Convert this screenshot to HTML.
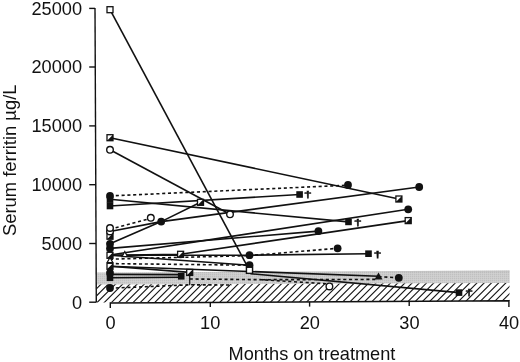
<!DOCTYPE html>
<html lang="en">
<head>
<meta charset="utf-8">
<title>Serum ferritin during treatment</title>
<style>
html,body{margin:0;padding:0;background:#fff;}
body{width:520px;height:362px;overflow:hidden;}
svg{display:block;will-change:transform;font-family:"Liberation Sans",Arial,Helvetica,sans-serif;}
</style>
</head>
<body>
<svg width="520" height="362" viewBox="0 0 520 362">
<rect width="520" height="362" fill="#fff"/>
<defs><linearGradient id="bg" x1="0" y1="0" x2="0" y2="1"><stop offset="0" stop-color="#b9b9b9"/><stop offset="0.16" stop-color="#cccccc"/><stop offset="1" stop-color="#cdcdcd"/></linearGradient><pattern id="ht" width="2" height="2" patternUnits="userSpaceOnUse"><rect width="1" height="1" fill="#000" fill-opacity="0.06"/><rect x="1" y="1" width="1" height="1" fill="#fff" fill-opacity="0.10"/></pattern></defs>
<polygon points="96.6,272.6 509.7,270.6 509.7,283.0 96.6,284.5" fill="url(#bg)"/>
<polygon points="96.6,272.6 509.7,270.6 509.7,283.0 96.6,284.5" fill="url(#ht)"/>
<clipPath id="hc"><polygon points="96.6,284.5 509.5,283.0 509.5,301.0 96.6,302.6"/></clipPath>
<g clip-path="url(#hc)" stroke="#111" stroke-width="1.1">
<line x1="66.8" y1="304" x2="90.8" y2="280"/>
<line x1="74.0" y1="304" x2="98.0" y2="280"/>
<line x1="81.2" y1="304" x2="105.2" y2="280"/>
<line x1="88.4" y1="304" x2="112.4" y2="280"/>
<line x1="95.6" y1="304" x2="119.6" y2="280"/>
<line x1="102.8" y1="304" x2="126.8" y2="280"/>
<line x1="110.0" y1="304" x2="134.0" y2="280"/>
<line x1="117.2" y1="304" x2="141.2" y2="280"/>
<line x1="124.4" y1="304" x2="148.4" y2="280"/>
<line x1="131.6" y1="304" x2="155.6" y2="280"/>
<line x1="138.8" y1="304" x2="162.8" y2="280"/>
<line x1="146.0" y1="304" x2="170.0" y2="280"/>
<line x1="153.2" y1="304" x2="177.2" y2="280"/>
<line x1="160.5" y1="304" x2="184.5" y2="280"/>
<line x1="167.7" y1="304" x2="191.7" y2="280"/>
<line x1="174.9" y1="304" x2="198.9" y2="280"/>
<line x1="182.1" y1="304" x2="206.1" y2="280"/>
<line x1="189.3" y1="304" x2="213.3" y2="280"/>
<line x1="196.5" y1="304" x2="220.5" y2="280"/>
<line x1="203.7" y1="304" x2="227.7" y2="280"/>
<line x1="210.9" y1="304" x2="234.9" y2="280"/>
<line x1="218.1" y1="304" x2="242.1" y2="280"/>
<line x1="225.3" y1="304" x2="249.3" y2="280"/>
<line x1="232.5" y1="304" x2="256.5" y2="280"/>
<line x1="239.7" y1="304" x2="263.7" y2="280"/>
<line x1="246.9" y1="304" x2="270.9" y2="280"/>
<line x1="254.1" y1="304" x2="278.1" y2="280"/>
<line x1="261.3" y1="304" x2="285.3" y2="280"/>
<line x1="268.6" y1="304" x2="292.6" y2="280"/>
<line x1="275.8" y1="304" x2="299.8" y2="280"/>
<line x1="283.0" y1="304" x2="307.0" y2="280"/>
<line x1="290.2" y1="304" x2="314.2" y2="280"/>
<line x1="297.4" y1="304" x2="321.4" y2="280"/>
<line x1="304.6" y1="304" x2="328.6" y2="280"/>
<line x1="311.8" y1="304" x2="335.8" y2="280"/>
<line x1="319.0" y1="304" x2="343.0" y2="280"/>
<line x1="326.2" y1="304" x2="350.2" y2="280"/>
<line x1="333.4" y1="304" x2="357.4" y2="280"/>
<line x1="340.6" y1="304" x2="364.6" y2="280"/>
<line x1="347.8" y1="304" x2="371.8" y2="280"/>
<line x1="355.0" y1="304" x2="379.0" y2="280"/>
<line x1="362.2" y1="304" x2="386.2" y2="280"/>
<line x1="369.5" y1="304" x2="393.5" y2="280"/>
<line x1="376.7" y1="304" x2="400.7" y2="280"/>
<line x1="383.9" y1="304" x2="407.9" y2="280"/>
<line x1="391.1" y1="304" x2="415.1" y2="280"/>
<line x1="398.3" y1="304" x2="422.3" y2="280"/>
<line x1="405.5" y1="304" x2="429.5" y2="280"/>
<line x1="412.7" y1="304" x2="436.7" y2="280"/>
<line x1="419.9" y1="304" x2="443.9" y2="280"/>
<line x1="427.1" y1="304" x2="451.1" y2="280"/>
<line x1="434.3" y1="304" x2="458.3" y2="280"/>
<line x1="441.5" y1="304" x2="465.5" y2="280"/>
<line x1="448.7" y1="304" x2="472.7" y2="280"/>
<line x1="455.9" y1="304" x2="479.9" y2="280"/>
<line x1="463.1" y1="304" x2="487.1" y2="280"/>
<line x1="470.4" y1="304" x2="494.4" y2="280"/>
<line x1="477.6" y1="304" x2="501.6" y2="280"/>
<line x1="484.8" y1="304" x2="508.8" y2="280"/>
<line x1="492.0" y1="304" x2="516.0" y2="280"/>
<line x1="499.2" y1="304" x2="523.2" y2="280"/>
<line x1="506.4" y1="304" x2="530.4" y2="280"/>
<line x1="513.6" y1="304" x2="537.6" y2="280"/>
<line x1="520.8" y1="304" x2="544.8" y2="280"/>
<line x1="528.0" y1="304" x2="552.0" y2="280"/>
</g>
<g stroke="#111" stroke-width="1.4" fill="none">
<path d="M95.0 8.0 L96.3 302.3"/>
<path d="M89.2 8.4 L95.0 8.4"/>
<path d="M89.2 67.0 L95.3 67.0"/>
<path d="M89.2 125.9 L95.5 125.9"/>
<path d="M89.2 184.7 L95.8 184.7"/>
<path d="M89.2 243.5 L96.0 243.5"/>
<path d="M89.2 302.2 L96.3 302.2"/>
<path d="M110.3 308.0 L110.3 303.0 L508.9 300.8 L508.9 307.0"/>
<path d="M210.3 302.3 L210.3 307.1"/>
<path d="M309.6 301.8 L309.6 306.6"/>
<path d="M409.2 301.2 L409.2 306.1"/>
</g>
<path d="M110.0 9.7 L249.5 270.3" fill="none" stroke="#111" stroke-width="1.6"/>
<path d="M250.5 273.7 L459.0 292.6" fill="none" stroke="#111" stroke-width="1.6"/>
<path d="M110.0 137.7 L398.9 199.0" fill="none" stroke="#111" stroke-width="1.6"/>
<path d="M110.0 149.8 L230.0 214.3" fill="none" stroke="#111" stroke-width="1.6"/>
<path d="M110.0 195.9 L348.0 185.2" fill="none" stroke="#111" stroke-width="1.6" stroke-dasharray="3.1 2.7"/>
<path d="M110.0 206.0 L299.6 194.5" fill="none" stroke="#111" stroke-width="1.6"/>
<path d="M110.0 199.3 L348.5 221.9" fill="none" stroke="#111" stroke-width="1.6"/>
<path d="M110.0 229.3 L150.8 218.4" fill="none" stroke="#111" stroke-width="1.6" stroke-dasharray="3.1 2.7"/>
<path d="M110.0 231.5 L161.2 221.6 L419.2 187.0" fill="none" stroke="#111" stroke-width="1.6"/>
<path d="M110.0 243.8 L161.2 221.6 L200.5 202.3" fill="none" stroke="#111" stroke-width="1.6"/>
<path d="M110.0 248.4 L318.4 231.1" fill="none" stroke="#111" stroke-width="1.6"/>
<path d="M110.0 255.0 L408.2 209.3" fill="none" stroke="#111" stroke-width="1.6"/>
<path d="M110.0 255.3 L180.6 254.3 L408.2 220.6" fill="none" stroke="#111" stroke-width="1.6"/>
<path d="M110.0 255.3 L249.5 255.2 L368.5 253.7" fill="none" stroke="#111" stroke-width="1.6"/>
<path d="M110.0 259.2 L249.5 255.6 L337.6 248.3" fill="none" stroke="#111" stroke-width="1.6" stroke-dasharray="3.1 2.7"/>
<path d="M110.0 255.3 L249.5 265.2" fill="none" stroke="#111" stroke-width="1.6"/>
<path d="M110.0 263.6 L249.5 265.2" fill="none" stroke="#111" stroke-width="1.6" stroke-dasharray="3.1 2.7"/>
<path d="M110.0 266.3 L378.5 276.2" fill="none" stroke="#111" stroke-width="1.6"/>
<path d="M378.5 276.6 L398.8 277.8" fill="none" stroke="#111" stroke-width="1.6" stroke-dasharray="3.1 2.7"/>
<path d="M110.0 266.3 L189.7 272.4" fill="none" stroke="#111" stroke-width="1.6"/>
<path d="M110.0 274.4 L181.2 274.6" fill="none" stroke="#111" stroke-width="1.6"/>
<path d="M110.0 277.7 L181.2 277.3" fill="none" stroke="#111" stroke-width="1.6"/>
<path d="M110.0 288.2 L189.7 284.8 L232.0 285.0" fill="none" stroke="#111" stroke-width="1.6" stroke-dasharray="3.1 2.7"/>
<path d="M189.7 279.0 L262.0 279.7 L326.6 283.8" fill="none" stroke="#111" stroke-width="1.6" stroke-dasharray="3.1 2.7"/>
<path d="M262.0 279.7 L375.5 279.4" fill="none" stroke="#111" stroke-width="1.6" stroke-dasharray="3.1 2.7"/>
<path d="M189.7 275.5 L189.7 285.2" fill="none" stroke="#111" stroke-width="1.2"/>
<rect x="107.0" y="6.7" width="6.0" height="6.0" fill="#fff" stroke="#111" stroke-width="1.3"/>
<rect x="246.5" y="267.3" width="6.0" height="6.0" fill="#fff" stroke="#111" stroke-width="1.3"/>
<rect x="455.7" y="289.3" width="6.6" height="6.6" fill="#111"/>
<text transform="translate(469.2 296.2) scale(1.5 1)" font-size="9.8" font-weight="bold" text-anchor="middle" fill="#111" stroke="#111" stroke-width="0.35">†</text>
<rect x="107.0" y="134.7" width="6.0" height="6.0" fill="#fff" stroke="#111" stroke-width="1.3"/>
<path d="M107.0 140.7 L113.0 140.7 L113.0 134.7 Z" fill="#111"/>
<rect x="395.9" y="196.0" width="6.0" height="6.0" fill="#fff" stroke="#111" stroke-width="1.3"/>
<path d="M395.9 202.0 L401.9 202.0 L401.9 196.0 Z" fill="#111"/>
<circle cx="110.0" cy="149.8" r="3.3" fill="#fff" stroke="#111" stroke-width="1.4"/>
<circle cx="230.0" cy="214.3" r="3.3" fill="#fff" stroke="#111" stroke-width="1.4"/>
<circle cx="348.0" cy="185.0" r="3.9" fill="#111"/>
<rect x="296.3" y="191.2" width="6.6" height="6.6" fill="#111"/>
<text transform="translate(307.9 198.4) scale(1.5 1)" font-size="9.8" font-weight="bold" text-anchor="middle" fill="#111" stroke="#111" stroke-width="0.35">†</text>
<rect x="345.2" y="218.6" width="6.6" height="6.6" fill="#111"/>
<text transform="translate(357.9 225.8) scale(1.5 1)" font-size="9.8" font-weight="bold" text-anchor="middle" fill="#111" stroke="#111" stroke-width="0.35">†</text>
<circle cx="150.8" cy="217.8" r="3.3" fill="#fff" stroke="#111" stroke-width="1.4"/>
<circle cx="161.2" cy="221.6" r="3.9" fill="#111"/>
<circle cx="419.2" cy="187.0" r="3.9" fill="#111"/>
<rect x="197.5" y="199.3" width="6.0" height="6.0" fill="#fff" stroke="#111" stroke-width="1.3"/>
<path d="M197.5 205.3 L203.5 205.3 L203.5 199.3 Z" fill="#111"/>
<circle cx="318.4" cy="231.1" r="3.9" fill="#111"/>
<circle cx="408.2" cy="209.3" r="3.9" fill="#111"/>
<rect x="405.2" y="217.6" width="6.0" height="6.0" fill="#fff" stroke="#111" stroke-width="1.3"/>
<path d="M405.2 223.6 L411.2 223.6 L411.2 217.6 Z" fill="#111"/>
<circle cx="249.5" cy="255.2" r="3.9" fill="#111"/>
<rect x="365.2" y="250.4" width="6.6" height="6.6" fill="#111"/>
<text transform="translate(377.7 257.7) scale(1.5 1)" font-size="9.8" font-weight="bold" text-anchor="middle" fill="#111" stroke="#111" stroke-width="0.35">†</text>
<circle cx="337.6" cy="248.3" r="3.9" fill="#111"/>
<circle cx="249.5" cy="265.2" r="3.9" fill="#111"/>
<rect x="246.5" y="267.3" width="6.0" height="6.0" fill="#fff" stroke="#111" stroke-width="1.3"/>
<path d="M378.5 272.4 L382.5 279.6 L374.5 279.6 Z" fill="#111"/>
<circle cx="398.8" cy="277.8" r="3.9" fill="#111"/>
<rect x="177.9" y="273.0" width="6.6" height="6.6" fill="#111"/>
<rect x="186.7" y="269.4" width="6.0" height="6.0" fill="#fff" stroke="#111" stroke-width="1.3"/>
<path d="M186.7 275.4 L192.7 275.4 L192.7 269.4 Z" fill="#111"/>
<circle cx="329.4" cy="286.4" r="3.3" fill="#fff" stroke="#111" stroke-width="1.4"/>
<path d="M124.8 251.6 L127.6 256.6 L122.0 256.6 Z" fill="#fff" stroke="#111" stroke-width="1.2"/>
<rect x="177.6" y="251.3" width="6.0" height="6.0" fill="#fff" stroke="#111" stroke-width="1.3"/>
<path d="M177.6 257.3 L183.6 257.3 L183.6 251.3 Z" fill="#111"/>
<circle cx="110.0" cy="288.0" r="3.9" fill="#111"/>
<rect x="106.7" y="274.5" width="6.6" height="6.6" fill="#111"/>
<circle cx="110.0" cy="273.0" r="3.9" fill="#111"/>
<rect x="107.0" y="263.3" width="6.0" height="6.0" fill="#fff" stroke="#111" stroke-width="1.3"/>
<path d="M107.0 269.3 L113.0 269.3 L113.0 263.3 Z" fill="#111"/>
<path d="M110.0 257.5 L112.8 262.5 L107.2 262.5 Z" fill="#fff" stroke="#111" stroke-width="1.2"/>
<rect x="107.0" y="252.3" width="6.0" height="6.0" fill="#fff" stroke="#111" stroke-width="1.3"/>
<path d="M107.0 258.3 L113.0 258.3 L113.0 252.3 Z" fill="#111"/>
<circle cx="110.0" cy="248.4" r="3.9" fill="#111"/>
<circle cx="110.0" cy="243.8" r="3.9" fill="#111"/>
<rect x="107.0" y="233.2" width="6.0" height="6.0" fill="#fff" stroke="#111" stroke-width="1.3"/>
<path d="M107.0 239.2 L113.0 239.2 L113.0 233.2 Z" fill="#111"/>
<circle cx="110.0" cy="231.5" r="3.3" fill="#fff" stroke="#111" stroke-width="1.4"/>
<circle cx="110.0" cy="228.0" r="3.3" fill="#fff" stroke="#111" stroke-width="1.4"/>
<rect x="106.7" y="202.7" width="6.6" height="6.6" fill="#111"/>
<rect x="106.7" y="196.3" width="6.6" height="6.6" fill="#111"/>
<circle cx="110.0" cy="196.0" r="3.9" fill="#111"/>
<g font-size="18.2" fill="#111">
<text x="82" y="14.8" text-anchor="end">25000</text>
<text x="82" y="73.4" text-anchor="end">20000</text>
<text x="82" y="132.3" text-anchor="end">15000</text>
<text x="82" y="191.1" text-anchor="end">10000</text>
<text x="82" y="249.9" text-anchor="end">5000</text>
<text x="82" y="309.0" text-anchor="end">0</text>
<text x="110.6" y="329.3" text-anchor="middle">0</text>
<text x="210.2" y="329.3" text-anchor="middle">10</text>
<text x="309.8" y="329.3" text-anchor="middle">20</text>
<text x="409.4" y="329.3" text-anchor="middle">30</text>
<text x="509.0" y="329.3" text-anchor="middle">40</text>
<text x="228.6" y="360.4">Months on treatment</text>
<text transform="translate(16.0 236.0) rotate(-90)" textLength="151.5" lengthAdjust="spacingAndGlyphs">Serum ferritin µg/L</text>
</g>
</svg>
</body>
</html>
